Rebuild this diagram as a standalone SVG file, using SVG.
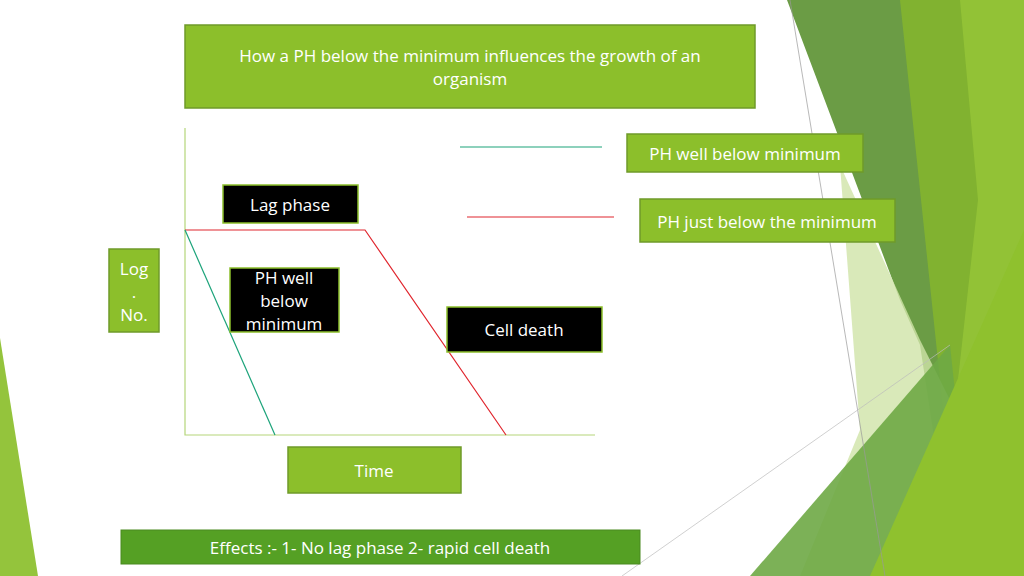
<svg xmlns="http://www.w3.org/2000/svg" width="1024" height="576" viewBox="0 0 1024 576">
<style>
.g{fill:#8cbf2b;stroke:#6f9a2a;stroke-width:1.5}
.b{fill:#000;stroke:#8cbf2b;stroke-width:1.5}
text{font-family:"Open Sans","DejaVu Sans",sans-serif;font-size:17px;fill:#fff;text-anchor:middle}
</style>
<rect width="1024" height="576" fill="#fff"/>
<g id="decor">
<polygon points="0,338 38,576 0,576" fill="#94c43c"/>
<polygon points="787,0 1000,0 1024,100 1024,576 955,576 920,345 900,300" fill="#6b9c45"/>
<polygon points="900,0 1000,0 1024,0 1024,576 960,576 940,380" fill="#84b52d" opacity="0.9"/>
<polygon points="960,0 1024,0 1024,576 980,576 958,380 978,200" fill="#92c236"/>
<polygon points="840,165 920,340 960,420 930,576 800,576 860,430" fill="#cfe3a8" opacity="0.8"/>
<polygon points="750,576 950,345 960,440 930,576" fill="#6ea845" opacity="0.9"/>
<polygon points="870,576 1024,230 1024,576" fill="#8fc12e"/>
<line x1="790" y1="0" x2="885" y2="576" stroke="#999" stroke-width="0.7"/>
<line x1="622" y1="576" x2="950" y2="345" stroke="#bbb" stroke-width="0.7"/>
</g>
<g id="title"><rect class="g" x="185" y="25" width="570" height="83"/>
<text x="470" y="62">How a PH  below the minimum influences the growth of an</text>
<text x="470" y="85">organism</text></g>
<g id="connectors" fill="none">
<polyline points="185,128 185,435 595,435" stroke="#b5d67a" stroke-width="1.2"/>
<line x1="460" y1="147" x2="602" y2="147" stroke="#1ca37a" stroke-width="1.2"/>
<line x1="467" y1="217" x2="614" y2="217" stroke="#e0262e" stroke-width="1.2"/>
<polyline points="185,230 365,230 506,435" stroke="#e0262e" stroke-width="1.2"/>
<line x1="185" y1="230" x2="275" y2="435" stroke="#1ca37a" stroke-width="1.2"/>
</g>
<g id="leg1"><rect class="g" x="627" y="134" width="236" height="38"/><text x="745" y="160">PH  well below minimum</text></g>
<g id="leg2"><rect class="g" x="640" y="199" width="255" height="43"/><text x="767" y="228">PH just below the minimum</text></g>
<g id="lag"><rect class="b" x="223" y="185" width="135" height="38"/><text x="290" y="211">Lag phase</text></g>
<g id="logno"><rect class="g" x="109" y="249" width="50" height="83"/><text x="134" y="275">Log</text><text x="134" y="298">.</text><text x="134" y="321">No.</text></g>
<g id="phwell"><rect class="b" x="230" y="268" width="109" height="64"/><text x="284" y="284">PH well</text><text x="284" y="307">below</text><text x="284" y="330">minimum</text></g>
<g id="death"><rect class="b" x="447" y="307" width="155" height="45"/><text x="524" y="336">Cell death</text></g>
<g id="time"><rect class="g" x="288" y="447" width="173" height="46"/><text x="374" y="477">Time</text></g>
<g id="effects"><rect x="121" y="530" width="519" height="34" fill="#55a024" stroke="#4a8a20"/><text x="380" y="554">Effects :- 1- No lag phase   2- rapid cell death</text></g>
</svg>
